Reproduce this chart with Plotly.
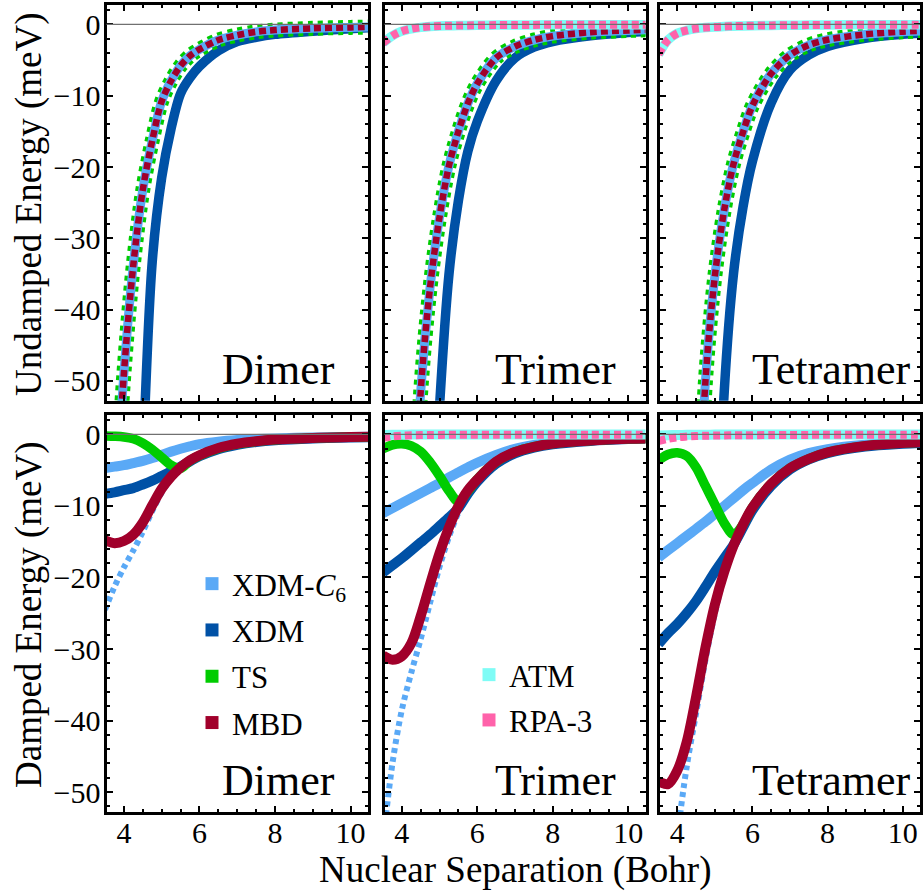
import plotly.graph_objects as go

# ---------------- data ----------------
R = [3.5, 3.75, 4.0, 4.25, 4.5, 4.75, 5.0, 5.25, 5.5, 5.75, 6.0, 6.5, 7.0, 7.5, 8.0, 9.0, 10.0, 10.5]

# Undamped energies (meV), top row
UND_DIMER_XDMC6 = [None, -71, -49, -33.7, -23.2, -16.3, -10.8, -7.9, -5.8, -4.4, -3.5, -2.2, -1.5, -1.05, -0.8, -0.55, -0.42, -0.37]
UND_DIMER_TS = [None, -71, -49, -33.7, -23.2, -16.3, -10.8, -7.9, -5.8, -4.4, -3.5, -2.2, -1.5, -1.05, -0.8, -0.55, -0.42, -0.37]
UND_DIMER_MBD = [None, -71, -49, -33.7, -23.2, -16.3, -10.8, -7.9, -5.8, -4.4, -3.5, -2.2, -1.5, -1.05, -0.8, -0.55, -0.42, -0.37]
UND_DIMER_XDM = [None, None, None, None, -62, -33.3, -21.5, -14.6, -9.7, -7.5, -5.9, -3.7, -2.4, -1.8, -1.4, -0.95, -0.6, -0.47]

UND_TRIMER_XDMC6 = [None, None, None, -80, -51.5, -36.8, -27.0, -19.8, -15.0, -11.1, -8.3, -4.7, -3.1, -2.2, -1.65, -1.1, -0.85, -0.75]
UND_TRIMER_TS = [None, None, None, -80, -51.5, -36.8, -27.0, -19.8, -15.0, -11.1, -8.3, -4.7, -3.1, -2.2, -1.65, -1.1, -0.85, -0.75]
UND_TRIMER_MBD = [None, None, None, -80, -51.5, -36.8, -27.0, -19.8, -15.0, -11.1, -8.3, -4.7, -3.1, -2.2, -1.65, -1.1, -0.85, -0.75]
UND_TRIMER_XDM = [None, None, None, None, None, -80, -53.5, -35.0, -24.7, -17.8, -13.6, -7.9, -4.7, -3.2, -2.4, -1.6, -1.15, -1.0]
UND_TRIMER_ATM = [-2.6, -1.6, -0.95, -0.62, -0.42, -0.3, -0.23, -0.19, -0.16, -0.14, -0.12, -0.1, -0.08, -0.07, -0.06, -0.05, -0.04, -0.04]
UND_TRIMER_RPA3 = [-2.6, -1.6, -0.95, -0.62, -0.42, -0.3, -0.23, -0.19, -0.16, -0.14, -0.12, -0.1, -0.08, -0.07, -0.06, -0.05, -0.04, -0.04]

UND_TETRAMER_XDMC6 = [None, None, None, None, -80, -50, -35.3, -26.0, -19.5, -15.1, -11.4, -6.9, -4.3, -2.9, -2.15, -1.4, -1.02, -0.92]
UND_TETRAMER_TS = [None, None, None, None, -80, -50, -35.3, -26.0, -19.5, -15.1, -11.4, -6.9, -4.3, -2.9, -2.15, -1.4, -1.02, -0.92]
UND_TETRAMER_MBD = [None, None, None, None, -80, -50, -35.3, -26.0, -19.5, -15.1, -11.4, -6.9, -4.3, -2.9, -2.15, -1.4, -1.02, -0.92]
UND_TETRAMER_XDM = [None, None, None, None, None, None, -85, -51.5, -34.8, -25.6, -19.2, -11.0, -6.4, -4.3, -3.1, -1.95, -1.4, -1.25]
UND_TETRAMER_ATM = [-4.2, -2.2, -1.25, -0.85, -0.6, -0.45, -0.35, -0.3, -0.25, -0.21, -0.18, -0.14, -0.12, -0.1, -0.08, -0.06, -0.05, -0.05]
UND_TETRAMER_RPA3 = [-4.2, -2.2, -1.25, -0.85, -0.6, -0.45, -0.35, -0.3, -0.25, -0.21, -0.18, -0.14, -0.12, -0.1, -0.08, -0.06, -0.05, -0.05]

# Damped energies (meV), bottom row
DAM_DIMER_XDMC6 = [-4.7, -4.5, -4.3, -4.0, -3.7, -3.3, -2.85, -2.4, -2.0, -1.65, -1.35, -1.0, -0.78, -0.64, -0.55, -0.42, -0.35, -0.32]
DAM_DIMER_XDM = [-8.3, -8.1, -7.8, -7.5, -7.0, -6.45, -5.8, -5.15, -4.5, -3.75, -3.05, -2.05, -1.45, -1.05, -0.8, -0.55, -0.42, -0.38]
DAM_DIMER_TS = [-0.2, -0.25, -0.35, -0.6, -1.2, -2.1, -3.2, -4.3, -4.75, -3.65, -2.95, -1.95, -1.35, -0.97, -0.74, -0.5, -0.39, -0.35]
DAM_DIMER_MBD = [-14.8, -15.2, -14.9, -14.0, -12.3, -9.9, -7.6, -5.9, -4.6, -3.6, -2.9, -1.9, -1.3, -0.95, -0.72, -0.48, -0.37, -0.33]
DAM_DIMER_XDMC6_DOTTED = [-24.5, -21.3, -18.6, -16.2, -13.6, -10.7, -8.1, -6.1, -4.7, -3.7, -2.95, -1.95, -1.33, -0.97, -0.73, -0.49, -0.38, -0.34]

DAM_TRIMER_XDMC6 = [-11.0, -10.3, -9.6, -8.9, -8.2, -7.5, -6.8, -6.0, -5.3, -4.6, -3.95, -2.85, -2.0, -1.45, -1.1, -0.75, -0.55, -0.5]
DAM_TRIMER_XDM = [-19.3, -18.3, -17.3, -16.2, -15.1, -14.0, -12.8, -11.6, -10.3, -8.3, -6.6, -4.1, -2.65, -1.85, -1.38, -0.9, -0.65, -0.58]
DAM_TRIMER_TS = [-2.0, -1.45, -1.3, -1.6, -2.4, -3.9, -5.8, -7.9, -9.4, -7.95, -6.25, -3.85, -2.45, -1.72, -1.27, -0.85, -0.6, -0.55]
DAM_TRIMER_MBD = [-30.9, -31.5, -31.0, -29.2, -25.4, -20.9, -16.6, -13.0, -10.0, -7.8, -6.3, -3.8, -2.45, -1.72, -1.27, -0.85, -0.6, -0.55]
DAM_TRIMER_XDMC6_DOTTED = [-57, -46, -38.5, -33.3, -28.6, -23.5, -18.5, -14.3, -10.9, -8.3, -6.5, -3.95, -2.55, -1.78, -1.3, -0.87, -0.62, -0.56]
DAM_TRIMER_ATM = [-0.1, -0.05, -0.03, -0.02, -0.02, -0.01, -0.01, -0.01, 0.0, 0.0, 0.0, 0.0, 0.0, 0.0, 0.0, 0.0, 0.0, 0.0]
DAM_TRIMER_RPA3 = [-0.45, -0.28, -0.18, -0.12, -0.09, -0.07, -0.06, -0.05, -0.05, -0.05, -0.04, -0.04, -0.04, -0.03, -0.03, -0.03, -0.03, -0.03]

DAM_TETRAMER_XDMC6 = [-17.2, -16.2, -15.2, -14.2, -13.2, -12.2, -11.1, -10.0, -8.9, -7.8, -6.8, -4.9, -3.5, -2.6, -2.05, -1.45, -1.15, -1.05]
DAM_TETRAMER_XDM = [-29.3, -27.8, -26.5, -25.0, -23.3, -21.3, -19.2, -17.3, -15.4, -13.0, -10.6, -7.2, -4.9, -3.5, -2.6, -1.7, -1.3, -1.18]
DAM_TETRAMER_TS = [-3.6, -2.8, -2.55, -3.0, -4.6, -7.2, -9.8, -12.4, -14.0, -12.6, -10.2, -6.9, -4.7, -3.4, -2.5, -1.6, -1.2, -1.1]
DAM_TETRAMER_MBD = [-48.5, -48.9, -47.0, -43.0, -36.7, -29.8, -23.8, -19.2, -15.5, -12.6, -10.2, -6.9, -4.7, -3.4, -2.5, -1.6, -1.2, -1.1]
DAM_TETRAMER_XDMC6_DOTTED = [None, -72, -56.5, -46.5, -39.0, -31.5, -25.0, -19.8, -15.8, -12.7, -10.3, -7.0, -4.75, -3.45, -2.52, -1.62, -1.22, -1.12]
DAM_TETRAMER_ATM = [-0.15, -0.1, -0.07, -0.05, -0.04, -0.03, -0.02, -0.02, -0.01, -0.01, 0.0, 0.0, 0.0, 0.0, 0.0, 0.0, 0.0, 0.0]
DAM_TETRAMER_RPA3 = [-0.9, -0.6, -0.4, -0.3, -0.22, -0.18, -0.15, -0.13, -0.12, -0.11, -0.1, -0.08, -0.07, -0.06, -0.05, -0.04, -0.03, -0.03]

PANEL_NAMES = ["Dimer", "Trimer", "Tetramer"]
X_TICKS = [4, 6, 8, 10]
Y_TICKS = [0, -10, -20, -30, -40, -50]
Y_TICK_TEXT = ["0", "\u221210", "\u221220", "\u221230", "\u221240", "\u221250"]
X_RANGE = [3.5, 10.5]
Y_RANGE = [-53, 3]

# ---------------- styles ----------------
C_XDMC6 = "#5AA9F6"
C_XDM = "#0051A6"
C_TS = "#00CC00"
C_MBD = "#A1002B"
C_ATM = "#7FFCF6"
C_RPA3 = "#FF62AA"
FONT = "Liberation Serif, Times New Roman, serif"

W, H = 923, 892
LW = 3
COLS = [(105.0, 369.5), (383.0, 647.0), (658.5, 921.5)]   # frame centre lines (px)
ROWS = [(3.0, 402.3), (413.0, 813.5)]

fig = go.Figure()


def sfx(p):
    return "" if p == 1 else str(p)


def add_line(p, y, color, width, dash="solid", name=""):
    fig.add_trace(go.Scatter(
        x=R, y=y, mode="lines", name=name, showlegend=False, hoverinfo="skip",
        line=dict(color=color, width=width, dash=dash, shape="spline", smoothing=0.9),
        xaxis="x" + sfx(p), yaxis="y" + sfx(p)))


# top row: undamped
top = [
    (UND_DIMER_XDM, UND_DIMER_TS, UND_DIMER_XDMC6, UND_DIMER_MBD, None, None),
    (UND_TRIMER_XDM, UND_TRIMER_TS, UND_TRIMER_XDMC6, UND_TRIMER_MBD, UND_TRIMER_ATM, UND_TRIMER_RPA3),
    (UND_TETRAMER_XDM, UND_TETRAMER_TS, UND_TETRAMER_XDMC6, UND_TETRAMER_MBD, UND_TETRAMER_ATM, UND_TETRAMER_RPA3),
]
for i, (xdm, ts, c6, mbd, atm, rpa) in enumerate(top):
    p = i + 1
    add_line(p, xdm, C_XDM, 9.5, name="XDM")
    add_line(p, ts, C_TS, 15, "5px,5px", name="TS")
    add_line(p, c6, C_XDMC6, 9, name="XDM-C6")
    add_line(p, mbd, C_MBD, 6.5, "7px,4px", name="MBD")
    if atm is not None:
        add_line(p, atm, C_ATM, 9.5, name="ATM")
        add_line(p, rpa, C_RPA3, 8, "7px,4px", name="RPA-3")

bottom = [
    (DAM_DIMER_XDMC6_DOTTED, DAM_DIMER_XDMC6, DAM_DIMER_XDM, DAM_DIMER_TS, DAM_DIMER_MBD, None, None),
    (DAM_TRIMER_XDMC6_DOTTED, DAM_TRIMER_XDMC6, DAM_TRIMER_XDM, DAM_TRIMER_TS, DAM_TRIMER_MBD, DAM_TRIMER_ATM, DAM_TRIMER_RPA3),
    (DAM_TETRAMER_XDMC6_DOTTED, DAM_TETRAMER_XDMC6, DAM_TETRAMER_XDM, DAM_TETRAMER_TS, DAM_TETRAMER_MBD, DAM_TETRAMER_ATM, DAM_TETRAMER_RPA3),
]
for i, (dot, c6, xdm, ts, mbd, atm, rpa) in enumerate(bottom):
    p = i + 4
    add_line(p, dot, C_XDMC6, 6, "5px,4px", name="XDM-C6 (dotted)")
    add_line(p, c6, C_XDMC6, 10, name="XDM-C6")
    add_line(p, xdm, C_XDM, 10, name="XDM")
    add_line(p, ts, C_TS, 9.5, name="TS")
    add_line(p, mbd, C_MBD, 10, name="MBD")
    if atm is not None:
        add_line(p, atm, C_ATM, 10, name="ATM")
        add_line(p, rpa, C_RPA3, 8, "7px,4px", name="RPA-3")

# legend entries (square swatches)
for nm, col, lg in [("XDM-<i>C</i><sub>6</sub>", C_XDMC6, "legend"), ("XDM", C_XDM, "legend"),
                    ("TS", C_TS, "legend"), ("MBD", C_MBD, "legend"),
                    ("ATM", C_ATM, "legend2"), ("RPA-3", C_RPA3, "legend2")]:
    fig.add_trace(go.Scatter(x=[None], y=[None], mode="markers", name=nm, legend=lg, legendgroup=nm,
                             marker=dict(symbol="square", size=13, color=col),
                             xaxis="x4", yaxis="y4", showlegend=True))

layout = dict(
    width=W, height=H, margin=dict(l=0, r=0, t=0, b=0),
    paper_bgcolor="white", plot_bgcolor="white",
    font=dict(family=FONT, color="black", size=30),
    showlegend=True,
    legend=dict(x=192 / W, y=1 - 557 / H, xanchor="left", yanchor="top", bgcolor="rgba(0,0,0,0)",
                font=dict(family=FONT, size=31, color="black"), tracegroupgap=3, borderwidth=0),
    legend2=dict(x=469 / W, y=1 - 648 / H, xanchor="left", yanchor="top", bgcolor="rgba(0,0,0,0)",
                 font=dict(family=FONT, size=31, color="black"), tracegroupgap=2, borderwidth=0),
)

shapes = []
annotations = []
for i in range(6):
    r, c = divmod(i, 3)
    p = i + 1
    s = sfx(p)
    c0, c1 = COLS[c]
    r0, r1 = ROWS[r]
    pxu = (c1 - c0) / (X_RANGE[1] - X_RANGE[0])
    pyu = (r1 - r0) / (Y_RANGE[1] - Y_RANGE[0])
    hl = LW / 2
    layout["xaxis" + s] = dict(
        domain=[(c0 + hl) / W, (c1 - hl) / W],
        range=[X_RANGE[0] + hl / pxu, X_RANGE[1] - hl / pxu],
        anchor="y" + s, showline=True, linewidth=LW, linecolor="black", mirror="allticks",
        ticks="inside", ticklen=6, tickwidth=2, tickcolor="black",
        tickmode="array", tickvals=X_TICKS, ticktext=[str(v) for v in X_TICKS],
        minor=dict(ticks="inside", dtick=0.5, tick0=0, ticklen=3, tickwidth=1.5, tickcolor="black"),
        showgrid=False, zeroline=False, showticklabels=(r == 1), layer="above traces",
        ticklabelstandoff=-8,
        tickfont=dict(family=FONT, size=30, color="black"), fixedrange=True)
    layout["yaxis" + s] = dict(
        domain=[1 - (r1 - hl) / H, 1 - (r0 + hl) / H],
        range=[Y_RANGE[0] + hl / pyu, Y_RANGE[1] - hl / pyu],
        anchor="x" + s, showline=True, linewidth=LW, linecolor="black", mirror="allticks",
        ticks="inside", ticklen=6, tickwidth=2, tickcolor="black",
        tickmode="array", tickvals=Y_TICKS, ticktext=Y_TICK_TEXT,
        minor=dict(ticks="inside", dtick=2, tick0=0, ticklen=3, tickwidth=1.5, tickcolor="black"),
        showgrid=False, zeroline=False, showticklabels=(c == 0), layer="above traces",
        ticklabelstandoff=-3,
        tickfont=dict(family=FONT, size=30, color="black"), fixedrange=True)
    # zero reference line
    shapes.append(dict(type="line", xref="x" + s + " domain", x0=0, x1=1, yref="y" + s, y0=0, y1=0,
                       layer="above", line=dict(color="#707070", width=1.3)))
    annotations.append(dict(text=PANEL_NAMES[c], xref="x" + s, yref="y" + s, x=8.08, y=-48.35,
                            xanchor="center", yanchor="middle", showarrow=False,
                            font=dict(family=FONT, size=44, color="black")))

annotations.append(dict(text="Undamped Energy (meV)", xref="paper", yref="paper", x=29 / W, y=1 - 204 / H,
                        textangle=-90, xanchor="center", yanchor="middle", showarrow=False,
                        font=dict(family=FONT, size=37, color="black")))
annotations.append(dict(text="Damped Energy (meV)", xref="paper", yref="paper", x=29 / W, y=1 - 615 / H,
                        textangle=-90, xanchor="center", yanchor="middle", showarrow=False,
                        font=dict(family=FONT, size=37, color="black")))
annotations.append(dict(text="Nuclear Separation (Bohr)", xref="paper", yref="paper", x=515 / W, y=1 - 870 / H,
                        xanchor="center", yanchor="middle", showarrow=False,
                        font=dict(family=FONT, size=37, color="black")))

layout["shapes"] = shapes
layout["annotations"] = annotations
fig.update_layout(**layout)
fig.write_html("out.html")
